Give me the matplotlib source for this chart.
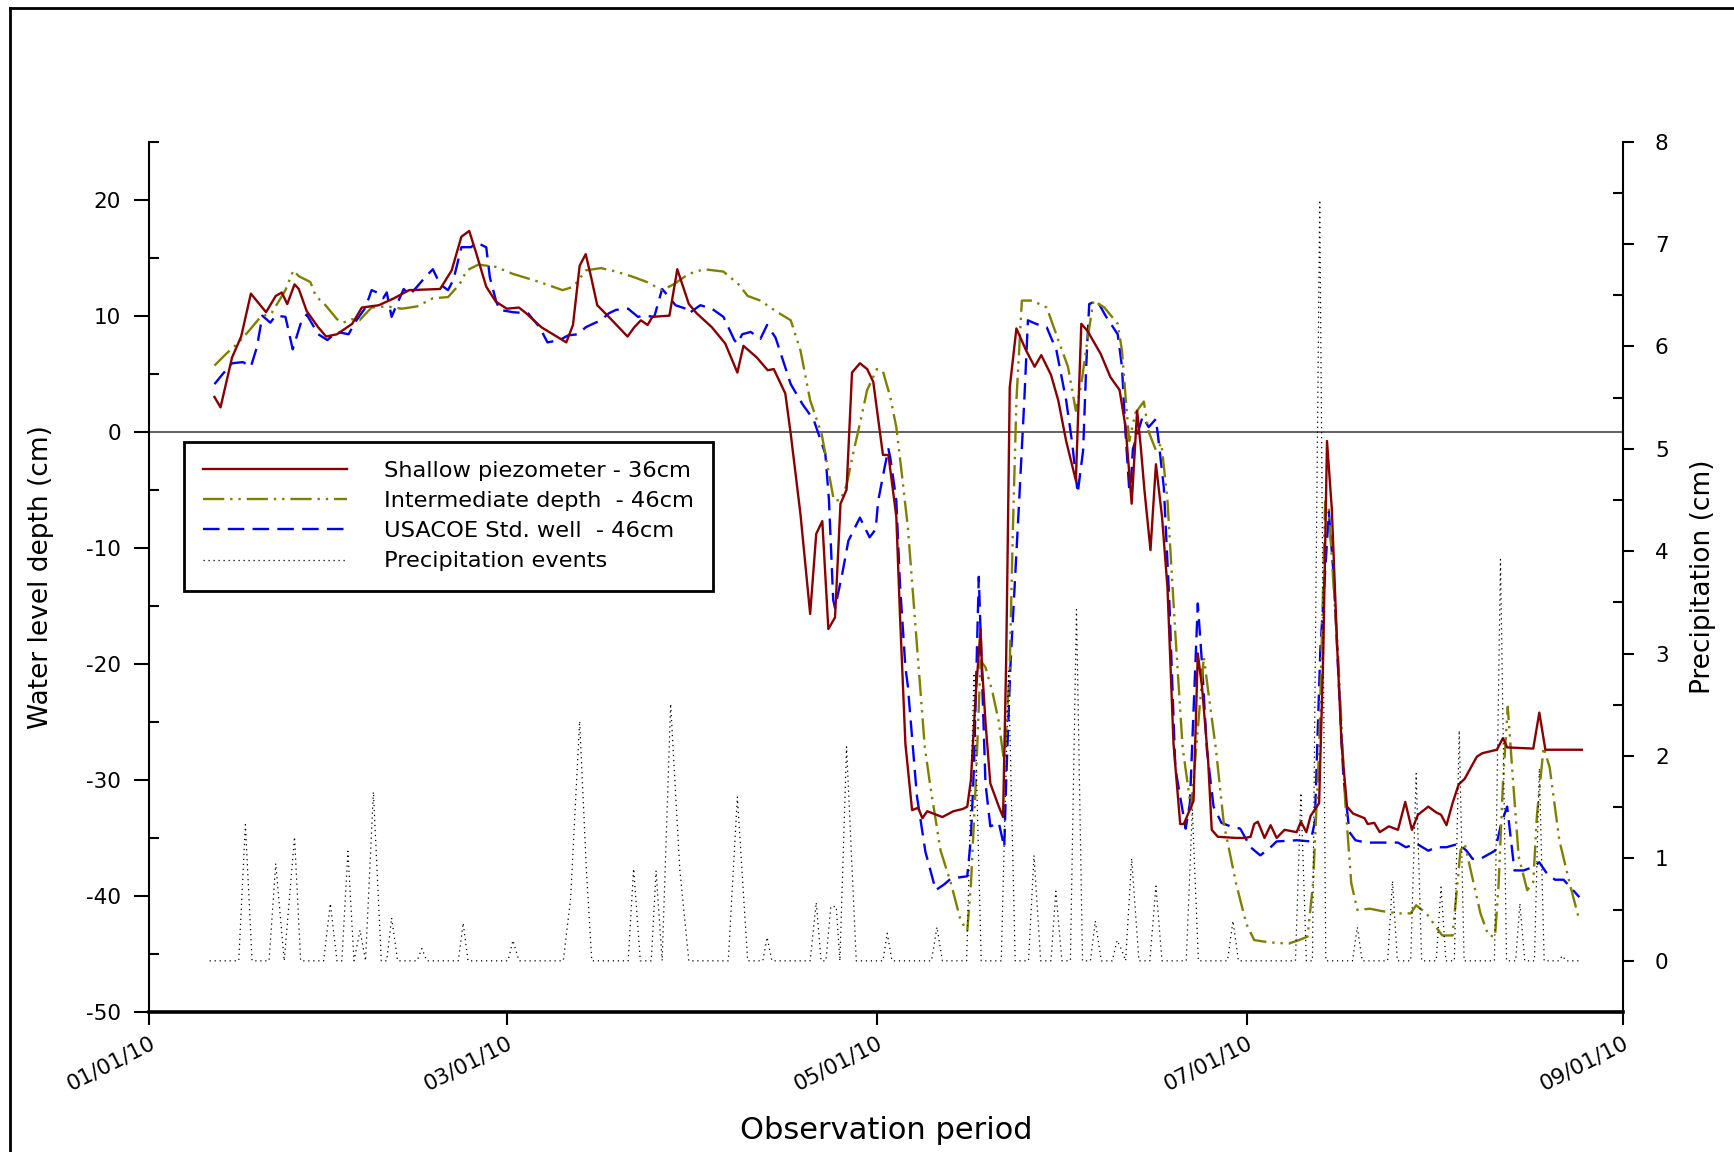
import numpy as np
import matplotlib
matplotlib.use("Agg")
import matplotlib.pyplot as plt
import matplotlib.dates as mdates
from matplotlib.ticker import MultipleLocator
from matplotlib.lines import Line2D

plt.rcParams["font.family"] = ["DejaVu Sans"]
plt.rcParams["axes.unicode_minus"] = False

# days counted from 01/01/2010
shallow_day = np.array([
    10.8, 11.8, 13.7, 15.2, 16.8, 19.3, 20.9, 21.9, 22.8, 24.0, 24.7, 26.0, 27.9, 29.2,
    31.0, 33.5, 35.1, 37.9, 40.4, 42.9, 48.0, 49.9, 51.5, 52.8, 54.0, 55.6, 57.2, 59.0,
    61.0, 62.2, 64.7, 66.9, 68.8, 69.9, 71.0, 72.0, 72.9, 73.9, 75.8, 78.9, 80.0, 81.1,
    82.2, 83.0, 85.8, 87.1, 89.0, 90.3, 92.8, 95.0, 97.0, 98.0, 100.2, 102.0, 103.0,
    104.9, 105.8, 107.4, 109.0, 110.0, 111.0, 112.0, 113.1, 114.0, 115.0, 115.9, 117.2,
    118.4, 119.4, 121.0, 121.9, 123.2, 123.8, 124.7, 125.8, 126.8, 127.5, 128.3, 130.8,
    132.6, 134.2, 134.9, 135.5, 136.3, 137.1, 137.3, 137.9, 138.7, 140.1, 140.8, 141.3,
    141.5, 141.9, 143.0, 144.6, 146.0, 147.1, 148.7, 149.9, 151.2, 152.8, 153.7, 154.7,
    156.9, 158.5, 160.0, 161.0, 162.0, 162.9, 163.5, 164.1, 165.1, 166.0, 167.0, 167.9,
    168.9, 170.0, 170.6, 172.2, 172.9, 173.6, 174.6, 175.2, 176.2, 179.2, 180.7, 181.6,
    182.2, 182.8, 183.9, 184.9, 185.9, 187.2, 189.2, 189.9, 190.8, 191.5, 192.9, 193.6,
    194.2, 195.0, 195.9, 196.6, 197.5, 198.5, 200.4, 200.9, 202.0, 202.9, 204.4, 205.9,
    207.1, 208.2, 209.2, 210.9, 212.2, 213.0, 213.9, 214.9, 215.9, 216.9, 218.9, 219.8,
    222.2, 223.2, 223.9, 228.2, 229.2, 230.2, 236.2])
shallow_cm = np.array([
    3.0, 2.1, 6.4, 8.2, 11.9, 10.3, 11.7, 12.0, 11.0, 12.7, 12.3, 10.4, 9.0, 8.2,
    8.4, 9.3, 10.7, 10.9, 11.5, 12.2, 12.3, 13.9, 16.8, 17.3, 15.3, 12.5, 11.2, 10.6,
    10.7, 10.2, 9.0, 8.3, 7.7, 9.2, 14.3, 15.3, 13.3, 10.9, 9.9, 8.2, 9.0, 9.6,
    9.2, 9.9, 10.0, 14.0, 11.0, 10.2, 9.0, 7.6, 5.1, 7.4, 6.4, 5.3, 5.4,
    3.3, -0.2, -7.1, -15.7, -8.8, -7.7, -17.0, -16.0, -6.2, -5.0, 5.1, 5.9,
    5.4, 4.3, -2.0, -2.0, -7.3, -15.7, -26.9, -32.6, -32.4, -33.3, -32.7, -33.2,
    -32.7, -32.5, -32.3, -30.0, -22.6, -17.0, -20.0, -25.0, -30.3, -32.3, -33.2, -20.0,
    -12.5, 3.8, 8.9, 7.0, 5.6, 6.6, 4.9, 2.7, -0.8, -4.2, 9.3, 8.7,
    6.7, 4.7, 3.6, 0.4, -6.2, 1.8, -1.3, -5.0, -10.2, -2.8, -7.3, -13.4,
    -26.9, -33.8, -33.8, -31.8, -19.1, -22.0, -28.3, -34.3, -34.9, -35.0, -35.0, -34.9,
    -33.8, -33.6, -35.0, -33.9, -35.0, -34.3, -34.5, -33.6, -34.5, -33.1, -32.0, -18.8,
    -0.8, -6.7, -18.8, -26.9, -32.3, -32.9, -33.3, -33.8, -33.7, -34.5, -34.0, -34.3,
    -31.9, -34.3, -33.0, -32.3, -32.8, -33.0, -33.9, -32.0, -30.4, -29.9, -28.0, -27.7,
    -27.4, -26.4, -27.2, -27.3, -24.2, -27.4, -27.4])

inter_day = np.array([
    10.8, 12.7, 14.6, 16.5, 18.4, 20.2, 22.5, 23.8, 24.7, 26.6, 27.5, 29.1, 31.0, 32.0,
    33.5, 34.7, 36.7, 39.2, 41.7, 44.2, 46.8, 49.3, 51.2, 52.4, 54.3, 57.2, 60.0, 62.5,
    64.4, 68.2, 70.0, 72.0, 74.5, 77.0, 79.5, 82.1, 84.6, 86.5, 89.0, 91.5, 94.7, 97.2,
    98.7, 100.8, 103.3, 105.8, 107.4, 109.0, 110.9, 112.1, 112.9, 114.0, 115.0, 116.2,
    117.2, 118.4, 120.0, 121.0, 122.2, 123.2, 124.1, 125.1, 126.3, 127.9, 128.8, 130.5,
    132.2, 133.8, 134.9, 135.5, 136.3, 137.1, 137.9, 139.0, 140.1, 141.0, 141.3, 141.9,
    142.4, 143.0, 143.9, 145.6, 148.0, 149.9, 151.5, 152.8, 153.7, 154.7, 155.7, 157.5,
    159.7, 160.4, 161.0, 161.6, 162.6, 164.0, 164.8, 166.0, 166.9, 167.9, 169.2, 170.4,
    171.8, 173.9, 174.6, 175.9, 177.2, 179.2, 180.9, 182.2, 184.7, 187.9, 189.6, 191.0,
    191.9, 192.9, 193.9, 194.5, 195.4, 196.0, 197.2, 198.2, 199.2, 201.3, 203.2, 205.9,
    208.0, 208.9, 210.6, 212.2, 213.2, 214.9, 216.2, 216.9, 217.9, 219.5, 220.8, 221.9,
    222.5, 223.2, 224.0, 224.9, 225.8, 227.2, 228.2, 228.8, 229.9, 230.9, 232.5, 234.2,
    235.8])
inter_cm = np.array([
    5.7, 6.7, 7.6, 8.7, 9.9, 10.2, 12.2, 13.9, 13.4, 12.9, 11.7, 10.9, 9.7, 9.4,
    9.7, 9.6, 10.7, 10.8, 10.6, 10.8, 11.5, 11.6, 12.7, 13.9, 14.4, 14.2, 13.6, 13.2,
    12.9, 12.2, 12.5, 13.9, 14.1, 13.8, 13.4, 12.9, 12.2, 12.7, 13.6, 14.0, 13.8, 12.7,
    11.7, 11.3, 10.4, 9.6, 7.0, 2.7, -0.2, -3.6, -5.9, -5.9, -4.6, -1.6,
    0.7, 3.6, 5.4, 5.2, 3.0, 0.4, -3.6, -8.2, -16.3, -27.2, -30.5, -36.1,
    -38.9, -42.1, -43.0, -39.0, -30.3, -19.7, -20.3, -22.3, -25.0, -28.6, -26.0, -20.3,
    -8.8, 2.7, 11.3, 11.3, 10.7, 7.9, 5.6, 1.8, 4.1, 7.9, 11.3, 10.7,
    9.3, 7.0, 3.0, -0.8, 1.6, 2.6, 0.0, -1.6, -1.0, -5.9, -17.4, -27.2,
    -32.5, -19.4, -22.3, -27.4, -33.8, -38.9, -42.4, -43.8, -44.0, -44.1, -43.8, -43.5,
    -38.9, -27.4, -6.0, -6.7, -14.3, -19.0, -31.8, -38.9, -41.2, -41.1, -41.3, -41.5,
    -41.5, -40.8, -41.5, -42.7, -43.4, -43.4, -36.1, -35.5, -37.8, -41.5, -43.4, -43.5,
    -38.9, -30.3, -23.7, -30.3, -36.6, -39.5, -38.8, -33.1, -27.2, -28.9, -35.2, -38.9,
    -42.1])

well_day = np.array([
    10.8, 12.2, 13.7, 15.5, 16.8, 17.8, 18.7, 20.0, 20.9, 22.5, 23.7, 25.0, 26.0, 27.9,
    29.4, 31.0, 32.9, 34.2, 35.7, 36.7, 37.6, 38.6, 39.2, 40.0, 40.8, 42.0, 43.0, 44.2,
    45.5, 46.8, 48.0, 49.3, 50.2, 51.5, 53.1, 54.0, 55.6, 56.2, 57.2, 57.8, 60.0, 62.5,
    64.4, 65.7, 67.7, 69.1, 70.7, 72.0, 73.2, 74.5, 75.8, 77.0, 79.0, 80.6, 81.7, 83.3,
    84.6, 85.9, 86.8, 88.5, 89.0, 90.9, 92.8, 94.7, 96.5, 97.0, 97.8, 99.2, 100.8, 101.9,
    103.3, 105.8, 107.7, 109.6, 111.5, 112.1, 112.8, 113.1, 114.3, 115.3, 117.2, 118.8,
    119.8, 120.2, 121.3, 121.9, 122.2, 123.2, 123.8, 124.7, 125.1, 126.6, 128.0, 129.7,
    131.1, 132.2, 134.9, 135.5, 136.0, 136.8, 137.9, 138.7, 140.1, 141.0, 141.3, 142.0,
    143.4, 144.3, 144.9, 146.2, 148.0, 149.6, 151.2, 152.2, 153.1, 154.0, 154.5, 155.0,
    156.3, 157.8, 159.7, 160.4, 161.0, 161.6, 161.9, 162.2, 163.8, 164.8, 166.0, 166.4,
    167.3, 168.2, 169.2, 170.9, 171.6, 172.9, 173.6, 174.4, 175.5, 176.8, 178.3, 179.9,
    181.6, 183.2, 184.7, 185.9, 189.2, 191.5, 192.2, 193.1, 194.5, 195.3, 195.9, 196.9,
    197.9, 198.9, 200.6, 202.6, 205.9, 207.2, 209.0, 210.9, 212.2, 213.9, 215.9, 217.2,
    218.2, 219.5, 221.9, 222.9, 223.9, 224.6, 225.1, 226.6, 228.2, 229.2, 230.5, 231.8,
    233.2, 235.8])
well_cm = np.array([
    4.1, 5.0, 5.9, 6.0, 5.6, 7.3, 10.0, 9.4, 10.0, 9.9, 7.1, 9.3, 10.1, 8.4,
    7.9, 8.6, 8.4, 9.6, 10.7, 12.2, 12.0, 11.5, 12.0, 9.9, 10.9, 12.3, 11.8, 12.5,
    13.3, 14.0, 12.7, 12.2, 13.1, 15.9, 15.9, 16.3, 15.9, 13.3, 11.3, 10.5, 10.3, 10.2,
    9.0, 7.7, 7.9, 8.3, 8.4, 9.0, 9.3, 9.6, 10.2, 10.5, 10.6, 9.9, 10.0, 9.9,
    12.3, 11.5, 10.9, 10.6, 10.2, 10.9, 10.6, 9.9, 7.9, 7.6, 8.4, 8.6, 8.0, 9.2,
    8.1, 4.1, 2.4, 1.0, -1.9, -5.9, -14.5, -15.2, -12.2, -9.4, -7.4, -9.1,
    -8.4, -6.0, -3.0, -1.5, -2.2, -5.9, -13.1, -20.3, -21.9, -31.4, -36.2, -39.5,
    -39.0, -38.5, -38.3, -35.0, -28.9, -12.5, -30.3, -34.0, -33.7, -35.8, -30.3, -20.3,
    -6.5, 2.7, 9.6, 9.3, 9.0, 7.0, 2.7, -1.0, -5.3, -1.6, 5.6, 11.0,
    11.3, 9.9, 8.4, 5.6, -0.2, -5.0, -4.2, -1.5, 1.3, 0.4, 1.1, -0.6,
    -4.8, -14.5, -29.0, -34.2, -32.0, -14.8, -20.0, -27.4, -32.3, -33.7, -34.0, -34.2,
    -35.8, -36.5, -35.9, -35.3, -35.2, -35.3, -33.6, -18.8, -6.9, -12.4, -19.0, -29.7,
    -34.5, -35.2, -35.4, -35.4, -35.4, -35.8, -35.5, -36.1, -35.8, -35.8, -35.5, -36.1,
    -36.8, -36.8, -36.1, -33.8, -32.3, -35.5, -37.8, -37.8, -37.5, -37.1, -38.1, -38.6,
    -38.6, -40.1])

rain_day = np.array([
    10.0,
    14.8, 15.9, 17.0,
    19.8, 20.9, 22.3, 24.0, 25.0,
    28.8, 29.9, 31.0, 31.8, 32.8, 33.8, 34.8, 35.7, 37.0, 38.3, 39.2, 40.0, 41.0,
    44.2, 45.0, 45.8,
    51.0, 51.8, 52.6,
    59.2, 60.0, 61.0,
    68.3, 69.5, 71.0, 72.1, 73.0,
    79.0, 79.9, 81.0, 82.8, 83.6, 84.6, 86.0, 87.5, 89.0,
    95.5, 97.0, 98.7,
    101.2, 101.9, 102.7,
    109.0, 110.0, 110.8, 111.6, 112.4, 113.3, 113.9, 115.0, 116.6,
    121.0, 121.7, 122.5,
    129.0, 129.9, 130.8,
    134.8, 136.0, 137.2,
    140.5, 141.7, 142.8,
    145.0, 145.9, 147.0,
    148.7, 149.5, 150.5,
    151.9, 152.9, 153.9,
    155.2, 156.0, 157.0,
    158.8, 159.6, 160.4, 161.0, 162.0, 163.2,
    165.0, 166.0, 167.0,
    171.0, 172.0, 173.0,
    177.8, 178.7, 179.6,
    189.0, 189.9, 190.8, 191.8, 193.0, 194.0,
    198.4, 199.2, 200.0,
    204.2, 205.0, 205.8,
    208.0, 208.9, 209.8,
    212.2, 213.0, 213.8,
    215.2, 216.0, 216.8,
    221.8, 222.8, 223.8,
    225.3, 226.0, 226.8,
    228.4, 229.2, 230.0,
    232.4, 233.0, 233.6,
    235.9])
rain_cm = np.array([
    0.0,
    0.0, 1.33, 0.0,
    0.0, 0.95, 0.0, 1.21, 0.0,
    0.0, 0.56, 0.0, 0.0, 1.07, 0.0, 0.30, 0.0, 1.65, 0.0, 0.0, 0.42, 0.0,
    0.0, 0.12, 0.0,
    0.0, 0.37, 0.0,
    0.0, 0.20, 0.0,
    0.0, 0.60, 2.34, 0.90, 0.0,
    0.0, 0.90, 0.0, 0.0, 0.88, 0.0, 2.51, 0.90, 0.0,
    0.0, 1.60, 0.0,
    0.0, 0.23, 0.0,
    0.0, 0.57, 0.0, 0.0, 0.53, 0.53, 0.0, 2.09, 0.0,
    0.0, 0.27, 0.0,
    0.0, 0.33, 0.0,
    0.0, 2.81, 0.0,
    0.0, 2.83, 0.0,
    0.0, 1.03, 0.0,
    0.0, 0.68, 0.0,
    0.0, 3.43, 0.0,
    0.0, 0.39, 0.0,
    0.0, 0.20, 0.10, 0.0, 1.00, 0.0,
    0.0, 0.73, 0.0,
    0.0, 1.48, 0.0,
    0.0, 0.39, 0.0,
    0.0, 1.64, 0.0, 0.0, 7.43, 0.0,
    0.0, 0.33, 0.0,
    0.0, 0.78, 0.0,
    0.0, 1.83, 0.0,
    0.0, 0.72, 0.0,
    0.0, 2.25, 0.0,
    0.0, 3.92, 0.0,
    0.0, 0.56, 0.0,
    0.0, 1.88, 0.0,
    0.0, 0.05, 0.0,
    0.0])

labels = ["Shallow piezometer - 36cm", "Intermediate depth  - 46cm",
          "USACOE Std. well  - 46cm", "Precipitation events"]

t0 = mdates.date2num(np.datetime64("2010-01-01"))

fig = plt.figure(figsize=(17.34, 11.52), dpi=100)
ax = fig.add_axes([0.0859, 0.1215, 0.8501, 0.7556])

l3, = ax.plot(t0 + well_day, well_cm, color="#0000ff", lw=1.7, dashes=(7, 3.5))
l2, = ax.plot(t0 + inter_day, inter_cm, color="#808000", lw=1.7,
              dashes=(9, 2.5, 1, 2.5, 1, 2.5))
l1, = ax.plot(t0 + shallow_day, shallow_cm, color="#8b0000", lw=1.7)
ax.axhline(0, color="#555555", lw=1.3, zorder=0)

ax2 = ax.twinx()
l4, = ax2.plot(t0 + rain_day, rain_cm, color="black", lw=0.9, ls=(0, (1, 3)))

ax.set_xlim(t0, t0 + 243)
ax.set_ylim(-50, 25)
ax2.set_ylim(-0.5, 8)

ax.xaxis.set_major_locator(mdates.MonthLocator(bymonth=[1, 3, 5, 7, 9]))
ax.xaxis.set_major_formatter(mdates.DateFormatter("%m/%d/%y"))
ax.yaxis.set_major_locator(MultipleLocator(10))
ax.yaxis.set_minor_locator(MultipleLocator(5))
ax2.yaxis.set_major_locator(MultipleLocator(1))
ax2.yaxis.set_minor_locator(MultipleLocator(0.5))

for a in (ax, ax2):
    a.spines["top"].set_visible(False)
ax.spines["right"].set_visible(False)
ax2.spines["left"].set_visible(False)
ax2.spines["bottom"].set_visible(False)
ax.spines["left"].set_linewidth(1.5)
ax.spines["bottom"].set_linewidth(2.6)
ax2.spines["right"].set_linewidth(1.5)

ax.tick_params(axis="y", which="major", direction="out", length=11, width=1.5,
               pad=9, labelsize=15.5)
ax.tick_params(axis="y", which="minor", direction="in", length=7, width=1.5)
ax2.tick_params(axis="y", which="major", direction="out", length=8, width=1.5,
                pad=15, labelsize=15.5)
ax2.tick_params(axis="y", which="minor", direction="in", length=7, width=1.5)
ax.tick_params(axis="x", which="major", direction="out", length=9, width=1.5,
               pad=6, labelsize=15.5, labelrotation=27)
plt.setp(ax.get_xticklabels(), ha="right", va="top", rotation_mode="anchor")

ax.set_xlabel("Observation period", fontsize=22)
ax.xaxis.set_label_coords(0.5, -0.1195)
ax.set_ylabel("Water level depth (cm)", fontsize=19)
ax.yaxis.set_label_coords(-0.0645, 0.5)
ax2.set_ylabel("Precipitation (cm)", fontsize=19)
ax2.yaxis.set_label_coords(1.0454, 0.5)

leg = ax2.legend([l1, l2, l3, l4], labels, loc="upper left",
                 bbox_to_anchor=(0.0235, 0.655), borderaxespad=0, fontsize=16.2,
                 handlelength=6.4, handletextpad=1.65, labelspacing=0.45,
                 borderpad=0.85, fancybox=False, edgecolor="black", framealpha=1)
leg.get_frame().set_linewidth(2)

# outer frame of the original picture (top and left edges only)
fx = 10 / 1734
fy = 1 - 8.3 / 1152
fig.add_artist(Line2D([fx, 1], [fy, fy], transform=fig.transFigure, color="black", lw=2))
fig.add_artist(Line2D([fx, fx], [0, fy], transform=fig.transFigure, color="black", lw=2))

fig.savefig("out.png", dpi=100)
